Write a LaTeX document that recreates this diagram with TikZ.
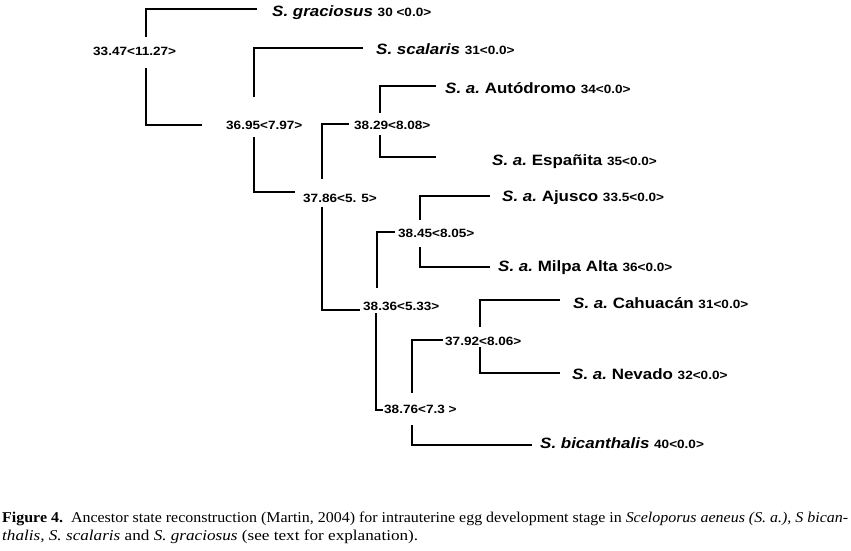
\documentclass[tikz,border=0pt]{standalone}
\usepackage{fontspec}
\usepackage{graphicx}
\setmainfont{Liberation Serif}
\newfontfamily\labfont{Liberation Sans}[FakeStretch=1.13]
\tikzset{
  br/.style={line width=1.8pt, line join=miter},
  sp/.style={anchor=base west, inner sep=0pt, font=\labfont\bfseries\fontsize{15}{18}\selectfont},
  lab/.style={anchor=base west, inner sep=0pt, font=\labfont\bfseries\fontsize{12}{14}\selectfont},
  capt/.style={anchor=base west, inner sep=0pt, font=\fontsize{15}{17}\selectfont}
}
\newcommand{\nmb}[1]{{\fontsize{12}{14}\selectfont #1}}
\begin{document}
\begin{tikzpicture}[x=1pt,y=-1pt]
\useasboundingbox (0,0) rectangle (851,551);
% leaves
\node[sp] (grac) at (272,17) {\itshape S. graciosus \upshape\nmb{30 <0.0>}};
\node[sp] (scal) at (376,55) {\itshape S. scalaris \upshape\nmb{31<0.0>}};
\node[sp] (auto) at (445,93) {\itshape S. a.\upshape\ Autódromo \nmb{34<0.0>}};
\node[sp] (espa) at (492,165) {\itshape S. a.\upshape\ Españita \nmb{35<0.0>}};
\node[sp] (ajus) at (502,201) {\itshape S. a.\upshape\ Ajusco \nmb{33.5<0.0>}};
\node[sp] (milp) at (498,271) {\itshape S. a.\upshape\ Milpa Alta \nmb{36<0.0>}};
\node[sp] (cahu) at (573,308) {\itshape S. a.\upshape\ Cahuacán \nmb{31<0.0>}};
\node[sp] (neva) at (572,379) {\itshape S. a.\upshape\ Nevado \nmb{32<0.0>}};
\node[sp] (bica) at (540,448) {\itshape S. bicanthalis \upshape\nmb{40<0.0>}};
% internal nodes
\node[lab] (n1) at (93,56) {33.47<11.27>};
\node[lab] (n2) at (226,129) {36.95<7.97>};
\node[lab] (n3) at (354,129) {38.29<8.08>};
\node[lab] (n4) at (303,202) {37.86<5. 5>};
\node[lab] (n5) at (398,237) {38.45<8.05>};
\node[lab] (n6) at (363,310) {38.36<5.33>};
\node[lab] (n7) at (445,345) {37.92<8.06>};
\node[lab] (n8) at (384,413) {38.76<7.3 >};
% branches
\draw[br] (146,37) |- (257,9);
\draw[br] (146,68) |- (202,125);
\draw[br] (254,97) |- (363,48);
\draw[br] (254,137) |- (295,192);
\draw[br] (380,113) |- (436,86);
\draw[br] (380,135) |- (436,157);
\draw[br] (349,124) -| (322,179);
\draw[br] (322,207) |- (360,310);
\draw[br] (420,220) |- (490,196);
\draw[br] (420,247) |- (490,267);
\draw[br] (395,232) -| (377,288);
\draw[br] (376,313) |- (383,410);
\draw[br] (480,327) |- (560,300);
\draw[br] (480,347) |- (560,373);
\draw[br] (443,340) -| (412,393);
\draw[br] (412,425) |- (532,445);
% caption
\node[capt] (cap1) at (2,522) {\resizebox{846pt}{\height}{\textbf{Figure 4.}\ \ Ancestor state reconstruction (Martin, 2004) for intrauterine egg development stage in \textit{Sceloporus aeneus (S. a.), S bican-}}};
\node[capt] (cap2) at (2,540) {\resizebox{416pt}{\height}{\textit{thalis, S. scalaris} and \textit{S. graciosus} (see text for explanation).}};
\end{tikzpicture}
\end{document}
